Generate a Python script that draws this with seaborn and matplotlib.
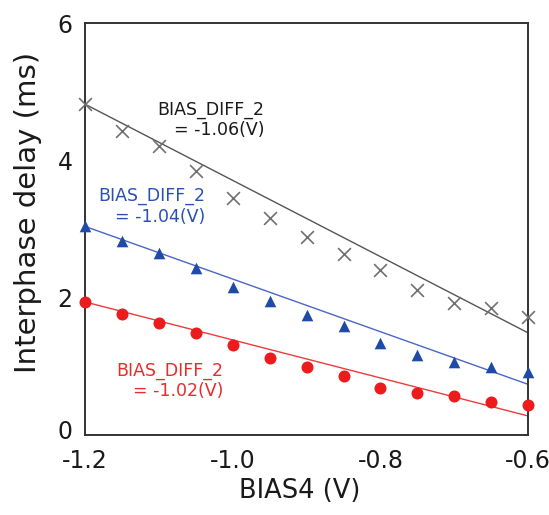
import numpy as np
import pandas as pd
import matplotlib
matplotlib.use("Agg")
import matplotlib.pyplot as plt
import matplotlib.transforms as mtransforms
import seaborn as sns

# BIAS4 sweep (V)
bias4 = [-1.20, -1.15, -1.10, -1.05, -1.00, -0.95, -0.90, -0.85, -0.80, -0.75, -0.70, -0.65, -0.60]

# Measured interphase delay (ms) for each BIAS_DIFF_2 setting
delay_106 = [4.82, 4.43, 4.21, 3.84, 3.45, 3.16, 2.88, 2.64, 2.40, 2.11, 1.92, 1.85, 1.72]
delay_104 = [3.04, 2.83, 2.66, 2.43, 2.16, 1.95, 1.75, 1.59, 1.34, 1.17, 1.06, 0.99, 0.92]
delay_102 = [1.94, 1.76, 1.63, 1.49, 1.31, 1.12, 0.99, 0.86, 0.68, 0.61, 0.57, 0.48, 0.44]

# Trend lines: delay at the two ends of the sweep
trend_x = [-1.2, -0.6]
trend_106 = [4.82, 1.49]
trend_104 = [3.04, 0.74]
trend_102 = [1.94, 0.28]

series_labels = ["-1.06", "-1.04", "-1.02"]

points = pd.DataFrame({
    "BIAS4": bias4 * 3,
    "delay": delay_106 + delay_104 + delay_102,
    "setting": np.repeat(series_labels, len(bias4)),
})
trends = pd.DataFrame({
    "BIAS4": trend_x * 3,
    "delay": trend_106 + trend_104 + trend_102,
    "setting": np.repeat(series_labels, len(trend_x)),
})

sns.set_style("white")
plt.rcParams["font.family"] = ["DejaVu Sans"]

fig = plt.figure(figsize=(5.49, 5.15), dpi=100)
ax = fig.add_axes([0.155, 0.155, 0.807, 0.800])

line_colors = {"-1.06": "#555555", "-1.04": "#4a66c8", "-1.02": "#f03a3a"}
mark_colors = {"-1.06": "#707070", "-1.04": "#1f4aa8", "-1.02": "#ec1c1c"}
text_colors = {"-1.06": "#1a1a1a", "-1.04": "#2a50b4", "-1.02": "#ec2a2a"}

sns.lineplot(data=trends, x="BIAS4", y="delay", hue="setting", palette=line_colors,
             linewidth=1.0, legend=False, ax=ax, zorder=2)

styles = {"-1.06": dict(marker="x", s=85, linewidth=1.2),
          "-1.04": dict(marker="^", s=70, linewidth=0),
          "-1.02": dict(marker="o", s=75, linewidth=0)}
for key in series_labels:
    sub = points[points["setting"] == key]
    sns.scatterplot(data=sub, x="BIAS4", y="delay", color=mark_colors[key],
                    ax=ax, legend=False, zorder=3, clip_on=False, **styles[key])

label_pos = {"-1.06": (-0.957, 4.59), "-1.04": (-1.037, 3.33), "-1.02": (-1.013, 0.79)}
for key in series_labels:
    x, y = label_pos[key]
    ax.text(x, y, f"BIAS_DIFF_2\n= {key}(V)", ha="right", va="center",
            multialignment="right", fontsize=12.5, color=text_colors[key],
            linespacing=1.15)

ax.set_xlim(-1.2, -0.6)
ax.set_ylim(0, 6)
ax.set_xticks([-1.2, -1.0, -0.8, -0.6])
ax.set_xticklabels(["-1.2", "-1.0", "-0.8", "-0.6"])
ax.set_yticks([0, 2, 4, 6])
ax.tick_params(axis="both", direction="in", length=4, width=1, labelsize=17,
               color="#333333", labelcolor="#1a1a1a")
ax.tick_params(axis="x", pad=10)
ax.tick_params(axis="y", pad=9)

# lift the "0" label a little so it clears the first x tick label
zero_label = ax.get_yticklabels()[0]
zero_label.set_transform(zero_label.get_transform() +
                         mtransforms.ScaledTranslation(0, 6 / 100, fig.dpi_scale_trans))

ax.set_xlabel("BIAS4 (V)", fontsize=18.5, color="#1a1a1a")
ax.set_ylabel("Interphase delay (ms)", fontsize=21, color="#1a1a1a")
ax.xaxis.set_label_coords(0.485, -0.105)
ax.yaxis.set_label_coords(-0.097, 0.54)

for side in ["left", "right", "top", "bottom"]:
    ax.spines[side].set_visible(True)
    ax.spines[side].set_color("#333333")
    ax.spines[side].set_linewidth(1.4)

fig.savefig("out.png", dpi=100)
